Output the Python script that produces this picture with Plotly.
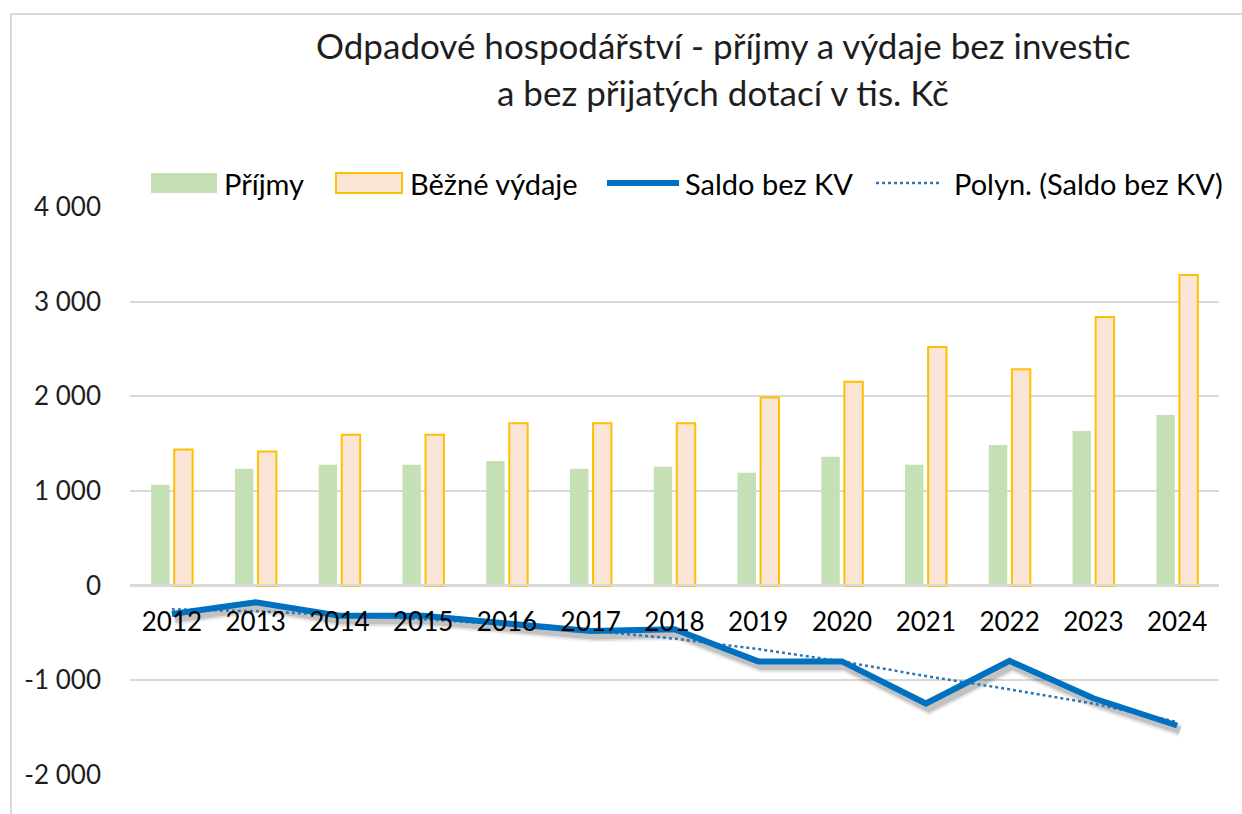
import plotly.graph_objects as go

# --- data (tis. Kč) ---
years = ["2012", "2013", "2014", "2015", "2016", "2017", "2018",
         "2019", "2020", "2021", "2022", "2023", "2024"]
prijmy = [1065, 1234, 1276, 1276, 1318, 1234, 1255, 1192, 1361, 1276, 1487, 1635, 1804]
vydaje = [1438, 1417, 1593, 1593, 1716, 1716, 1716, 1987, 2155, 2521, 2285, 2837, 3281]
saldo = [-300, -175, -317, -317, -400, -480, -461, -800, -800, -1245, -795, -1190, -1477]
trend = [-250, -270, -310, -355, -410, -475, -560, -670, -800, -955, -1095, -1245, -1440]

y_ticks = [-2000, -1000, 0, 1000, 2000, 3000, 4000]
y_tick_text = ["-2 000", "-1 000", "0", "1 000", "2 000", "3 000", "4 000"]

title_lines = ["Odpadové hospodářství - příjmy a výdaje bez investic",
               "a bez přijatých dotací v tis. Kč"]
legend_names = ["Příjmy", "Běžné výdaje", "Saldo bez KV", "Polyn. (Saldo bez KV)"]

# --- styling ---
FONT = "Lato"
TXT = "#1e1e1e"
GREEN = "#C5E0B4"
PEACH = "#FBE5D6"
GOLD = "#FFC000"
BLUE = "#0070C0"
GRID = "#d9d9d9"

W_PX, H_PX = 1242, 814
L, R, T, B = 130, 1219, 207, 775
PW, PH = R - L, B - T
Y_RANGE = [-2000, 4000]


def px(x):
    return (x - L) / PW


def py(y):
    return (B - y) / PH


fig = go.Figure()

fig.add_trace(go.Bar(x=years, y=prijmy, name=legend_names[0],
                     marker=dict(color=GREEN, line=dict(width=0)),
                     xaxis="x", yaxis="y"))
fig.add_trace(go.Bar(x=years, y=vydaje, name=legend_names[1],
                     marker=dict(color=PEACH, line=dict(color=GOLD, width=2)),
                     xaxis="x", yaxis="y"))

# soft drop shadow under the saldo line (slightly offset axes)
n_cat = len(years)
cat_px = PW / n_cat
dx = 3 / cat_px
dy = 5 * (Y_RANGE[1] - Y_RANGE[0]) / PH
for w, a in [(13, 0.05), (10, 0.08), (7, 0.13)]:
    fig.add_trace(go.Scatter(x=years, y=saldo, mode="lines", showlegend=False,
                             line=dict(color=f"rgba(0,0,0,{a})", width=w),
                             hoverinfo="skip", xaxis="x2", yaxis="y2"))

fig.add_trace(go.Scatter(x=years, y=trend, mode="lines", name=legend_names[3],
                         line=dict(color="#2E75B6", width=2.5, dash="dot"),
                         xaxis="x3", yaxis="y3"))
fig.add_trace(go.Scatter(x=years, y=saldo, mode="lines", name=legend_names[2],
                         line=dict(color=BLUE, width=6),
                         xaxis="x3", yaxis="y3"))

base_x = [-0.5, n_cat - 0.5]

fig.update_layout(
    width=W_PX, height=H_PX,
    margin=dict(l=L, r=W_PX - R, t=T, b=H_PX - B),
    paper_bgcolor="white", plot_bgcolor="white",
    showlegend=False,
    barmode="group", bargap=0.45, bargroupgap=0.2,
    font=dict(family=FONT, color=TXT),
    xaxis=dict(type="category", range=base_x, anchor="free", position=py(585),
               showgrid=False, showline=True, linecolor=GRID, linewidth=1.5,
               ticks="", ticklabelstandoff=14,
               tickfont=dict(size=26, color="#000000", family=FONT),
               zeroline=False, fixedrange=True),
    yaxis=dict(range=Y_RANGE, tickvals=y_ticks, ticktext=y_tick_text,
               showgrid=True, gridcolor=GRID, gridwidth=1.5,
               zeroline=False, showline=False, ticks="",
               ticklabelstandoff=28,
               tickfont=dict(size=26, color=TXT, family=FONT)),
    xaxis2=dict(type="category", overlaying="x", visible=False,
                range=[base_x[0] - dx, base_x[1] - dx]),
    yaxis2=dict(overlaying="y", visible=False,
                range=[Y_RANGE[0] + dy, Y_RANGE[1] + dy]),
    xaxis3=dict(type="category", overlaying="x", visible=False, range=base_x),
    yaxis3=dict(overlaying="y", visible=False, range=Y_RANGE),
)

shapes = []
annotations = []

# outer chart frame
shapes.append(dict(type="rect", xref="paper", yref="paper",
                   x0=px(11), x1=px(1260), y0=py(830), y1=py(14),
                   line=dict(color="#d9d9d9", width=2), fillcolor="rgba(0,0,0,0)",
                   layer="below"))

# title
for i, (line, yc) in enumerate(zip(title_lines, [45, 92])):
    annotations.append(dict(text=line, xref="paper", yref="paper",
                            x=px(723), y=py(yc), xanchor="center", yanchor="middle",
                            showarrow=False,
                            font=dict(size=35, color=TXT, family=FONT)))

# legend
LEG_Y = 183
shapes.append(dict(type="rect", xref="paper", yref="paper",
                   x0=px(151), x1=px(217), y0=py(193), y1=py(173),
                   fillcolor=GREEN, line=dict(width=0)))
shapes.append(dict(type="rect", xref="paper", yref="paper",
                   x0=px(336), x1=px(402), y0=py(193), y1=py(173),
                   fillcolor=PEACH, line=dict(color=GOLD, width=2)))
shapes.append(dict(type="line", xref="paper", yref="paper",
                   x0=px(607), x1=px(679), y0=py(LEG_Y), y1=py(LEG_Y),
                   line=dict(color=BLUE, width=6)))
shapes.append(dict(type="line", xref="paper", yref="paper",
                   x0=px(876), x1=px(940), y0=py(LEG_Y), y1=py(LEG_Y),
                   line=dict(color="#2E75B6", width=2.5, dash="dot")))
for name, x0 in zip(legend_names, [222, 408, 683, 952]):
    annotations.append(dict(text=name, xref="paper", yref="paper",
                            x=px(x0), y=py(LEG_Y), xanchor="left", yanchor="middle",
                            showarrow=False,
                            font=dict(size=29, color="#000000", family=FONT)))

fig.update_layout(shapes=shapes, annotations=annotations)

fig.write_html("out.html")
